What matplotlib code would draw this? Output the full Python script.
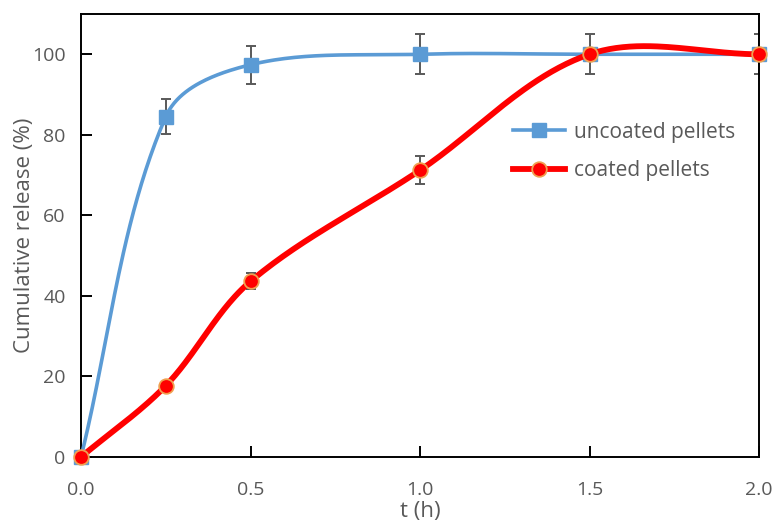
import matplotlib
matplotlib.use("Agg")
import matplotlib.pyplot as plt
import numpy as np

t = [0.0, 0.25, 0.5, 1.0, 1.5, 2.0]
uncoated = [0.0, 84.5, 97.4, 100.0, 100.0, 100.0]
uncoated_err = [0.0, 4.3, 4.7, 5.0, 5.0, 5.0]
coated = [0.0, 17.7, 43.6, 71.2, 100.0, 100.0]
coated_err = [0.0, 0.6, 2.0, 3.5, 0.0, 0.0]

grey = "#595959"
blue = "#5B9BD5"
red = "#FF0000"
plt.rcParams["font.family"] = ["Open Sans", "DejaVu Sans"]


def smooth(ax, xs, ys, n=50):
    # excel-ish smoothed line, bezier segments worked out in screen space
    pts = ax.transData.transform(np.column_stack([xs, ys]))
    m = len(pts)
    out = []
    for i in range(m - 1):
        p0 = pts[max(i - 1, 0)]
        p1 = pts[i]
        p2 = pts[i + 1]
        p3 = pts[min(i + 2, m - 1)]
        seg_len = np.hypot(*(p2 - p1))
        d1 = p2 - p0
        d2 = p3 - p1
        c1 = p1 + d1 / np.hypot(*d1) * seg_len / 3.0
        c2 = p2 - d2 / np.hypot(*d2) * seg_len / 3.0
        s = np.linspace(0, 1, n)[:, None]
        seg = (1 - s) ** 3 * p1 + 3 * (1 - s) ** 2 * s * c1 + 3 * (1 - s) * s ** 2 * c2 + s ** 3 * p2
        out.append(seg)
    back = ax.transData.inverted().transform(np.vstack(out))
    return back[:, 0], back[:, 1]


fig = plt.figure(figsize=(7.77, 5.25), dpi=100)
ax = fig.add_axes([81 / 777, (525 - 457) / 525, (759 - 81) / 777, (457 - 14) / 525])
ax.set_xlim(0, 2)
ax.set_ylim(0, 110)

ax.errorbar(t, uncoated, yerr=uncoated_err, fmt="none", ecolor=grey, elinewidth=1.4, capsize=3.5, capthick=1.4, zorder=2)
ax.errorbar(t, coated, yerr=coated_err, fmt="none", ecolor=grey, elinewidth=1.4, capsize=3.5, capthick=1.4, zorder=2)

sx, sy = smooth(ax, t, uncoated)
ax.plot(sx, sy, color=blue, lw=2.6, zorder=3, clip_on=False)
ax.plot(t, uncoated, ls="none", marker="s", ms=10.5, color=blue, zorder=4, clip_on=False)
sx, sy = smooth(ax, t, coated)
ax.plot(sx, sy, color=red, lw=4.2, zorder=5, clip_on=False)
ax.plot(t, coated, ls="none", marker="o", ms=10.5, color=red, mec="#F0A050", mew=1.3, zorder=6, clip_on=False)

# legend handles
h1, = ax.plot([], [], color=blue, lw=2.6, marker="s", ms=10.5)
h2, = ax.plot([], [], color=red, lw=4.2, marker="o", ms=10.5, mec="#F0A050", mew=1.3)
leg = ax.legend([h1, h2], ["uncoated pellets", "coated pellets"], loc="center left",
                bbox_to_anchor=(0.609, 0.69), frameon=False, fontsize=15,
                handlelength=2.5, labelspacing=0.82, handletextpad=0.45)
for txt in leg.get_texts():
    txt.set_color(grey)

ax.set_xticks([0, 0.5, 1.0, 1.5, 2.0])
ax.set_xticklabels(["0.0", "0.5", "1.0", "1.5", "2.0"])
ax.set_yticks([0, 20, 40, 60, 80, 100])
ax.tick_params(direction="in", length=8, width=1.4, labelsize=14, labelcolor=grey)
ax.tick_params(axis="x", pad=17)
ax.tick_params(axis="y", pad=11)
for sp in ax.spines.values():
    sp.set_linewidth(1.4)

ax.set_xlabel("t (h)", fontsize=16, color=grey)
ax.set_ylabel("Cumulative release (%)", fontsize=16, color=grey)
ax.xaxis.set_label_coords(0.5, (457 - 501) / 443)
ax.yaxis.set_label_coords((35 - 81) / 678, 0.5)

fig.savefig("out.png", dpi=100)
